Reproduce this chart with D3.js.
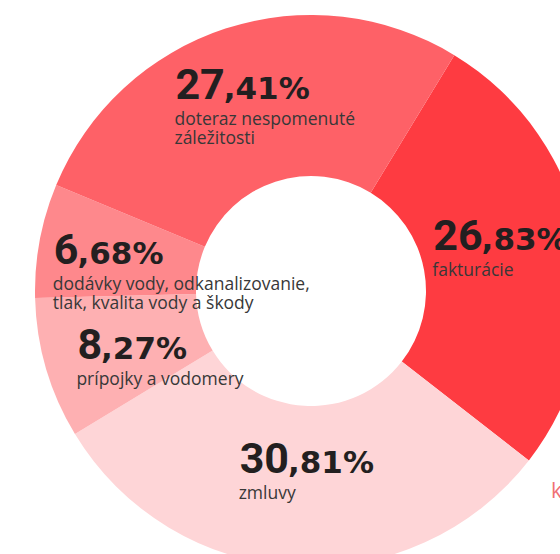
<!DOCTYPE html>
<html>
<head>
<meta charset="utf-8">
<script src="https://cdn.jsdelivr.net/npm/d3@7"></script>
<style>
  html, body { margin: 0; padding: 0; background: #fff; overflow: hidden; }
  .pct { fill: #231f20; font-weight: 700; }
  .pct .int { font-family: Roboto, sans-serif; font-size: 43px; }
  .pct .dec { font-family: "DejaVu Sans", sans-serif; font-size: 31px; }
  .lbl { font-family: "Open Sans", sans-serif; font-size: 17.5px; fill: #383838; }
</style>
</head>
<body>
<div id="chart"></div>
<script>
// categories in drawing order (clockwise)
const categories = ["fakturácie", "zmluvy", "prípojky a vodomery",
  "dodávky vody, odkanalizovanie, tlak, kvalita vody a škody", "doteraz nespomenuté záležitosti"];
const values = [26.83, 30.81, 8.27, 6.68, 27.41];
// label lines as shown under each percentage
const labelLines = [
  ["fakturácie"],
  ["zmluvy"],
  ["prípojky a vodomery"],
  ["dodávky vody, odkanalizovanie,", "tlak, kvalita vody a škody"],
  ["doteraz nespomenuté", "záležitosti"]
];
const colors = ["#fe3b41", "#fed5d7", "#feb0b2", "#fe888c", "#fe6167"];

// label anchor relative to slice centroid: left edge dx, baseline dy (layout only)
const nudge = [[-70, -6], [-60, -13], [-46, 13], [-65, 9], [-75, -6]];

const width = 560, height = 554;
const cx = 311, cy = 291;
const inner = 115, outer = 276;
const start = 0.546;

const svg = d3.select("#chart").append("svg")
  .attr("width", width).attr("height", height);

const g = svg.append("g").attr("transform", "translate(" + cx + "," + cy + ")");

const pie = d3.pie().sort(null).value(d => d)
  .startAngle(start).endAngle(start + 2 * Math.PI);
const arcs = pie(values);
const arc = d3.arc().innerRadius(inner).outerRadius(outer);

g.selectAll("path.slice")
  .data(arcs)
  .join("path")
  .attr("class", "slice")
  .attr("d", arc)
  .attr("fill", (d, i) => colors[i]);

// labels
const fmt = v => v.toFixed(2).split(".");
arcs.forEach((d, i) => {
  const c = arc.centroid(d);
  const x = c[0] + nudge[i][0], y = c[1] + nudge[i][1];
  const parts = fmt(values[i]);
  const lg = g.append("g");
  const t = lg.append("text").attr("class", "pct").attr("x", x).attr("y", y);
  t.append("tspan").attr("class", "int").text(parts[0]);
  t.append("tspan").attr("class", "dec").attr("dx", -1).text("," + parts[1] + "%");
  labelLines[i].forEach((line, j) => {
    lg.append("text").attr("class", "lbl")
      .attr("x", x - 1).attr("y", y + 26 + j * 18.5)
      .text(line);
  });
});

// cut-off annotation at the right edge
svg.append("text")
  .attr("x", 551).attr("y", 498)
  .style("font-family", "'Open Sans', sans-serif")
  .style("font-size", "21px")
  .style("fill", "#f07075")
  .text("k");
</script>
</body>
</html>
